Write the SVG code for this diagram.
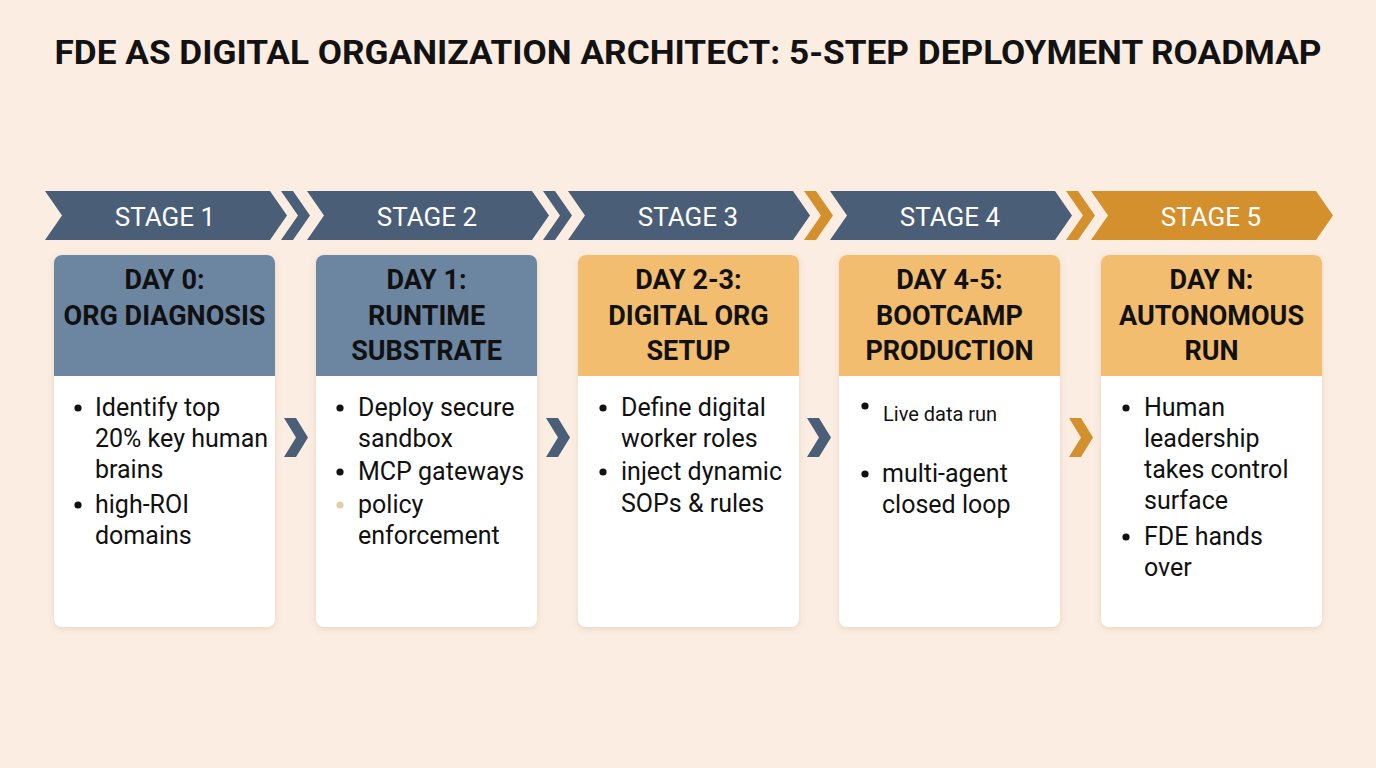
<svg xmlns="http://www.w3.org/2000/svg" width="1376" height="768" viewBox="0 0 1376 768">
<defs>
<style>
.title{font-family:Roboto,"Liberation Sans",sans-serif;font-weight:700;font-size:33px;fill:#121212}
.stg{font-family:Roboto,"Liberation Sans",sans-serif;font-size:26px;fill:#ffffff;text-anchor:middle}
.hd{font-family:Roboto,"Liberation Sans",sans-serif;font-weight:700;font-size:27px;fill:#111111;text-anchor:middle}
.bd{font-family:Roboto,"Liberation Sans",sans-serif;font-size:25px;fill:#111111}
.sm{font-family:Roboto,"Liberation Sans",sans-serif;font-size:20px;fill:#111111}
.dark{fill:#4b5e77}
.orange{fill:#d4902d}
.hblue{fill:#6c85a1}
.horange{fill:#f3bd6f}
.card{fill:#ffffff}
.dot{fill:#111111}
</style>
<filter id="sh" x="-10%" y="-10%" width="120%" height="120%">
<feDropShadow dx="0" dy="2" stdDeviation="3" flood-color="#8a6a4a" flood-opacity="0.18"/>
</filter>
<polygon id="banner" points="0,191 225,191 242,215.5 225,240 0,240 17,215.5"/>
<polygon id="sep" points="0,191 12,191 29,215.5 12,240 0,240 17,215.5"/>
<polygon id="arrow" points="0,418 12,418 24,437.5 12,457 0,457 12,437.5"/>
</defs>
<rect width="1376" height="768" fill="#fbede1"/>
<text class="title" x="688" y="64" text-anchor="middle" textLength="1267" lengthAdjust="spacingAndGlyphs">FDE AS DIGITAL ORGANIZATION ARCHITECT: 5-STEP DEPLOYMENT ROADMAP</text>

<g id="connectors">
<use href="#sep" x="281" class="dark"/>
<use href="#sep" x="543" class="dark"/>
<use href="#sep" x="804" class="orange"/>
<use href="#sep" x="1066" class="orange"/>
<use href="#arrow" x="284" class="dark"/>
<use href="#arrow" x="546" class="dark"/>
<use href="#arrow" x="807" class="dark"/>
<use href="#arrow" x="1069" class="orange"/>
</g>

<g id="stage-1"><use href="#banner" x="45" class="dark"/><text class="stg" x="165" y="226">STAGE 1</text></g>
<g id="stage-2"><use href="#banner" x="307" class="dark"/><text class="stg" x="427" y="226">STAGE 2</text></g>
<g id="stage-3"><use href="#banner" x="568" class="dark"/><text class="stg" x="688" y="226">STAGE 3</text></g>
<g id="stage-4"><use href="#banner" x="830" class="dark"/><text class="stg" x="950" y="226">STAGE 4</text></g>
<g id="stage-5"><use href="#banner" x="1091" class="orange"/><text class="stg" x="1211" y="226">STAGE 5</text></g>

<g id="card-1">
<rect class="card" x="54" y="255" width="221" height="372" rx="8" filter="url(#sh)"/>
<path class="hblue" d="M54,376 V263 a8,8 0 0 1 8,-8 H267 a8,8 0 0 1 8,8 V376 Z"/>
<text class="hd" x="164.5" y="289">DAY 0:</text>
<text class="hd" x="164.5" y="325">ORG DIAGNOSIS</text>
<circle class="dot" cx="78" cy="408" r="3.6"/>
<text class="bd" x="95" y="416">Identify top</text>
<text class="bd" x="95" y="447">20% key human</text>
<text class="bd" x="95" y="478">brains</text>
<circle class="dot" cx="78" cy="505" r="3.6"/>
<text class="bd" x="95" y="513">high-ROI</text>
<text class="bd" x="95" y="544">domains</text>
</g>

<g id="card-2">
<rect class="card" x="316" y="255" width="221" height="372" rx="8" filter="url(#sh)"/>
<path class="hblue" d="M316,376 V263 a8,8 0 0 1 8,-8 H529 a8,8 0 0 1 8,8 V376 Z"/>
<text class="hd" x="426.5" y="289">DAY 1:</text>
<text class="hd" x="426.5" y="325">RUNTIME</text>
<text class="hd" x="426.5" y="360">SUBSTRATE</text>
<circle class="dot" cx="340" cy="408" r="3.6"/>
<text class="bd" x="358" y="416">Deploy secure</text>
<text class="bd" x="358" y="447">sandbox</text>
<circle class="dot" cx="340" cy="472" r="3.6"/>
<text class="bd" x="358" y="480">MCP gateways</text>
<circle cx="340" cy="505" r="3.6" fill="#e3cfa6"/>
<text class="bd" x="358" y="513">policy</text>
<text class="bd" x="358" y="544">enforcement</text>
</g>

<g id="card-3">
<rect class="card" x="578" y="255" width="221" height="372" rx="8" filter="url(#sh)"/>
<path class="horange" d="M578,376 V263 a8,8 0 0 1 8,-8 H791 a8,8 0 0 1 8,8 V376 Z"/>
<text class="hd" x="688.5" y="289">DAY 2-3:</text>
<text class="hd" x="688.5" y="325">DIGITAL ORG</text>
<text class="hd" x="688.5" y="360">SETUP</text>
<circle class="dot" cx="603" cy="408" r="3.6"/>
<text class="bd" x="621" y="416">Define digital</text>
<text class="bd" x="621" y="447">worker roles</text>
<circle class="dot" cx="603" cy="472" r="3.6"/>
<text class="bd" x="621" y="480">inject dynamic</text>
<text class="bd" x="621" y="512">SOPs &amp; rules</text>
</g>

<g id="card-4">
<rect class="card" x="839" y="255" width="221" height="372" rx="8" filter="url(#sh)"/>
<path class="horange" d="M839,376 V263 a8,8 0 0 1 8,-8 H1052 a8,8 0 0 1 8,8 V376 Z"/>
<text class="hd" x="949.5" y="289">DAY 4-5:</text>
<text class="hd" x="949.5" y="325">BOOTCAMP</text>
<text class="hd" x="949.5" y="360">PRODUCTION</text>
<circle class="dot" cx="865" cy="406" r="3.6"/>
<text class="sm" x="883" y="421">Live data run</text>
<circle class="dot" cx="865" cy="474" r="3.6"/>
<text class="bd" x="882" y="482">multi-agent</text>
<text class="bd" x="882" y="513">closed loop</text>
</g>

<g id="card-5">
<rect class="card" x="1101" y="255" width="221" height="372" rx="8" filter="url(#sh)"/>
<path class="horange" d="M1101,376 V263 a8,8 0 0 1 8,-8 H1314 a8,8 0 0 1 8,8 V376 Z"/>
<text class="hd" x="1211.5" y="289">DAY N:</text>
<text class="hd" x="1211.5" y="325">AUTONOMOUS</text>
<text class="hd" x="1211.5" y="360">RUN</text>
<circle class="dot" cx="1126" cy="408" r="3.6"/>
<text class="bd" x="1144" y="416">Human</text>
<text class="bd" x="1144" y="447">leadership</text>
<text class="bd" x="1144" y="478">takes control</text>
<text class="bd" x="1144" y="509">surface</text>
<circle class="dot" cx="1126" cy="537" r="3.6"/>
<text class="bd" x="1144" y="545">FDE hands</text>
<text class="bd" x="1144" y="576">over</text>
</g>
</svg>
